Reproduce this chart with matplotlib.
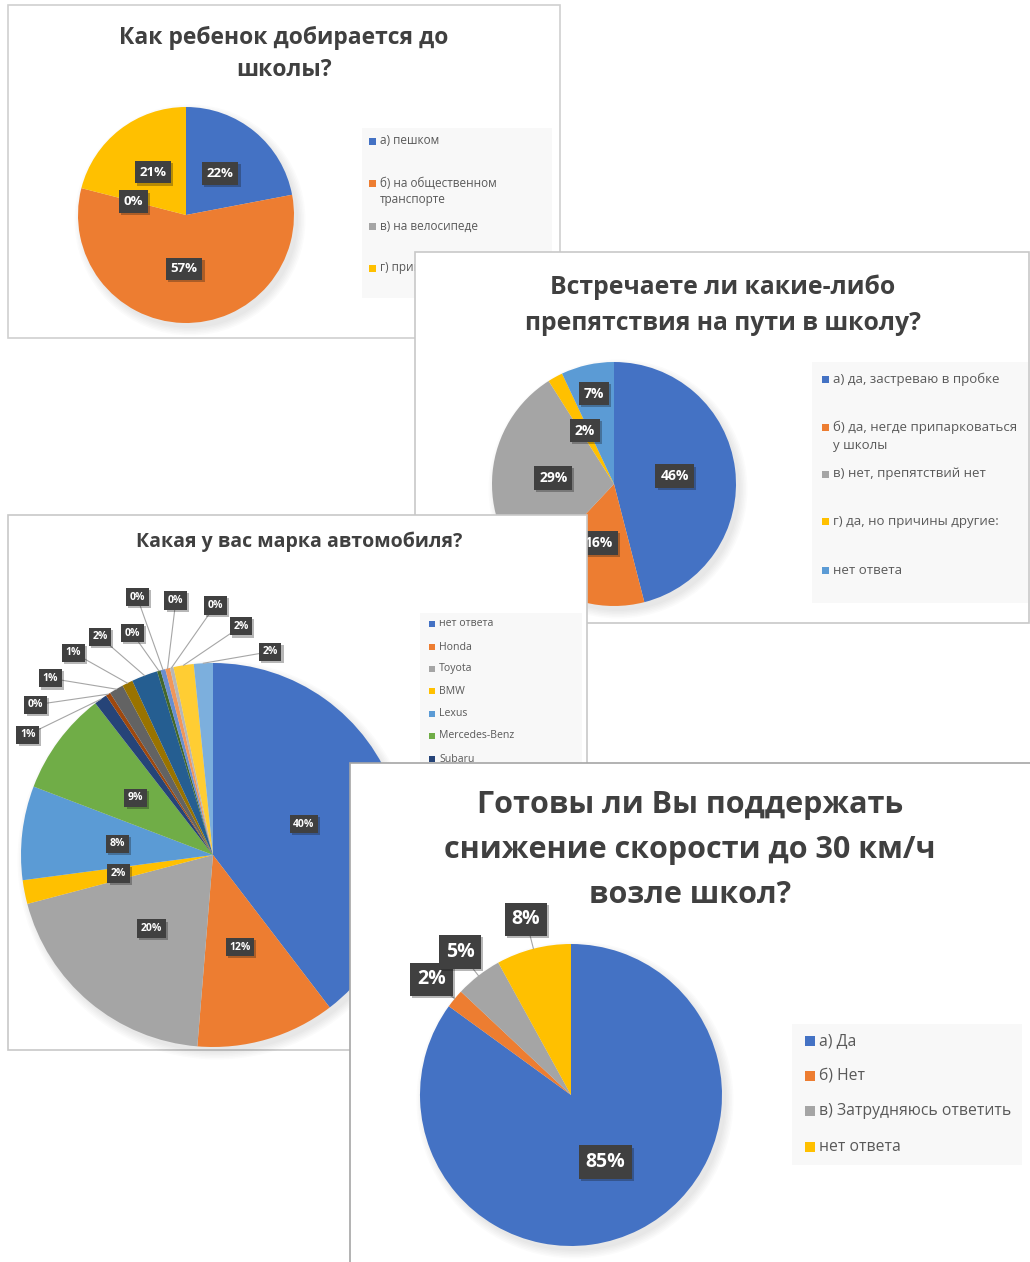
import matplotlib.pyplot as plt
from matplotlib.patches import Rectangle, Circle
from matplotlib import patheffects as pe
import numpy as np

W, H = 1030, 1262
plt.rcParams['font.family'] = ['Open Sans', 'DejaVu Sans']

# --- data -------------------------------------------------------------
q1_title = ['Как ребенок добирается до', 'школы?']
q1_labels = ['а) пешком', 'б) на общественном\nтранспорте', 'в) на велосипеде',
             'г) привозят на машине']
q1_values = [22, 57, 0, 21]

q2_title = ['Встречаете ли какие-либо', 'препятствия на пути в школу?']
q2_labels = ['а) да, застреваю в пробке', 'б) да, негде припарковаться\nу школы',
             'в) нет, препятствий нет', 'г) да, но причины другие:', 'нет ответа']
q2_values = [46, 16, 29, 2, 7]

q3_title = ['Какая у вас марка автомобиля?']
q3_labels = ['нет ответа', 'Honda', 'Toyota', 'BMW', 'Lexus', 'Mercedes-Benz', 'Subaru']
q3_values = [39.6, 11.7, 19.6, 2.0, 7.9, 8.7,
             1.1, 0.4, 1.2, 0.9, 2.2, 0.3, 0.4, 0.4, 0.3, 1.7, 1.6]

q4_title = ['Готовы ли Вы поддержать', 'снижение скорости до 30 км/ч', 'возле школ?']
q4_labels = ['а) Да', 'б) Нет', 'в) Затрудняюсь ответить', 'нет ответа']
q4_values = [85, 2, 5, 8]

office = ['#4472C4', '#ED7D31', '#A5A5A5', '#FFC000', '#5B9BD5', '#70AD47',
          '#264478', '#9E480E', '#636363', '#997300', '#255E91', '#43682B',
          '#698ED0', '#F1975A', '#B7B7B7', '#FFCD33', '#7CAFDD']


def Y(y):
    return H - y


fig = plt.figure(figsize=(W / 100, H / 100), dpi=100)
ax = fig.add_axes([0, 0, 1, 1])


def panel(x0, y0, x1, y1, z, ec='#C8C8C8'):
    ax.add_patch(Rectangle((x0, Y(y1)), x1 - x0, y1 - y0, fc='white',
                           ec=ec, lw=1.2, zorder=z))


def title(lines, cx, ys, fs, z):
    for s, yy in zip(lines, ys):
        ax.text(cx, Y(yy), s, ha='center', va='center', fontsize=fs,
                fontweight='bold', color='#404040', zorder=z)


def legend(labels, colors, box, x, ys, fs, gap, sq, z):
    bx0, by0, bx1, by1 = box
    ax.add_patch(Rectangle((bx0, Y(by1)), bx1 - bx0, by1 - by0, fc='#F8F8F8',
                           ec='none', zorder=z))
    for lab, c, yy in zip(labels, colors, ys):
        ax.add_patch(Rectangle((x, Y(yy) - sq / 2), sq, sq, fc=c, ec='none', zorder=z))
        for k, line in enumerate(lab.split('\n')):
            ax.text(x + sq + 4, Y(yy + k * gap), line, ha='left', va='center',
                    fontsize=fs, color='#595959', zorder=z)


def tag(x, y, s, fs, z):
    t = ax.text(x, y, s, ha='center', va='center', fontsize=fs, fontweight='bold',
                color='white', zorder=z,
                bbox=dict(boxstyle='square,pad=0.35', fc='#404040', ec='none'))
    t.get_bbox_patch().set_path_effects(
        [pe.SimplePatchShadow(offset=(1.5, -1.5), alpha=0.3), pe.Normal()])
    return t


def pie(values, cx, cy, r, z):
    for k in range(6):
        ax.add_patch(Circle((cx + 4, Y(cy) - 5), r + k * 1.5, fc='black',
                            alpha=0.016, ec='none', zorder=z))
    wedges, _ = ax.pie(values, colors=office[:len(values)], startangle=90,
                       counterclock=False, center=(cx, Y(cy)), radius=r,
                       frame=True, wedgeprops=dict(lw=0, zorder=z))
    total = sum(values)
    mids = [np.deg2rad((w.theta1 + w.theta2) / 2) for w in wedges]
    pcts = ['%.0f%%' % (v / total * 100) for v in values]
    return mids, pcts


# --- panel 1 ------------------------------------------------------------
z = 10
panel(8, 5, 560, 338, z, ec='#D0D0D0')
title(q1_title, 284, [38, 70], 16.5, z + 1)
cx, cy, r = 186, 215, 108
mids, pcts = pie(q1_values, cx, cy, r, z + 1)
for a, s in zip(mids, pcts):
    tag(cx + 0.5 * r * np.cos(a), Y(cy) + 0.5 * r * np.sin(a), s, 9.5, z + 3)
legend(q1_labels, office, (362, 128, 552, 298), 369, [141, 183, 226, 268],
       8.5, 17, 7, z + 1)

# --- panel 2 ------------------------------------------------------------
z = 20
panel(415, 252, 1029, 623, z)
title(q2_title, 723, [287, 323], 17.8, z + 1)
cx, cy, r = 614, 484, 122
mids, pcts = pie(q2_values, cx, cy, r, z + 1)
q2_rad = [0.5, 0.5, 0.5, 0.5, 0.76]
for a, s, f in zip(mids, pcts, q2_rad):
    tag(cx + f * r * np.cos(a), Y(cy) + f * r * np.sin(a), s, 10, z + 3)
legend(q2_labels, office, (812, 362, 1028, 603), 822, [379, 427, 474, 521, 570],
       9.5, 19, 7, z + 1)

# --- panel 3 ------------------------------------------------------------
z = 30
panel(8, 515, 587, 1050, z)
title(q3_title, 299, [542], 14, z + 1)
cx, cy, r = 213, 855, 192
mids, pcts = pie(q3_values, cx, cy, r, z + 1)
# outside label layout (angle deg, radius factor) for the small slices
q3_out = [(147, 1.15), (139.7, 1.21), (132.6, 1.25), (124.6, 1.28), (117.4, 1.28),
          (110, 1.23), (106.4, 1.40), (98.3, 1.34), (89.5, 1.30), (83, 1.20),
          (74.3, 1.10)]
for a, s in zip(mids[:6], pcts[:6]):
    tag(cx + 0.5 * r * np.cos(a), Y(cy) + 0.5 * r * np.sin(a), s, 7.5, z + 3)
for a, s, (ang, f) in zip(mids[6:], pcts[6:], q3_out):
    lx = cx + f * r * np.cos(np.deg2rad(ang))
    ly = Y(cy) + f * r * np.sin(np.deg2rad(ang))
    ax.plot([lx, cx + r * np.cos(a)], [ly, Y(cy) + r * np.sin(a)],
            color='#A6A6A6', lw=0.8, zorder=z + 2)
    tag(lx, ly, s, 7.5, z + 3)
legend(q3_labels, office, (420, 613, 582, 800), 429,
       [624, 647, 669, 691, 714, 736, 759], 7.6, 12, 6, z + 1)

# --- panel 4 ------------------------------------------------------------
z = 40
panel(350, 763, 1035, 1270, z, ec='#A6A6A6')
title(q4_title, 690, [805, 850, 895], 22, z + 1)
cx, cy, r = 571, 1095, 151
mids, pcts = pie(q4_values, cx, cy, r, z + 1)
tag(cx + 0.5 * r * np.cos(mids[0]), Y(cy) + 0.5 * r * np.sin(mids[0]), pcts[0], 14, z + 3)
for a, s in zip(mids[1:], pcts[1:]):
    lx, ly = cx + 1.2 * r * np.cos(a), Y(cy) + 1.2 * r * np.sin(a)
    ax.plot([lx, cx + r * np.cos(a)], [ly, Y(cy) + r * np.sin(a)],
            color='#A6A6A6', lw=0.8, zorder=z + 2)
    tag(lx, ly, s, 14, z + 3)
legend(q4_labels, office, (792, 1024, 1022, 1165), 805, [1041, 1076, 1111, 1147],
       11.3, 20, 10, z + 1)

ax.set_xlim(0, W)
ax.set_ylim(0, H)
ax.set_aspect('equal')
ax.axis('off')
fig.savefig('out.png', dpi=100, facecolor='white')
